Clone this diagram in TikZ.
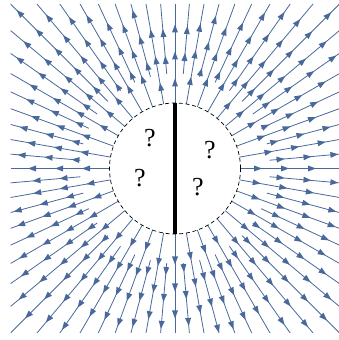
\documentclass[tikz,border=0pt]{standalone}
\usepackage{fontspec}
\setmainfont{Liberation Serif}
\definecolor{fld}{HTML}{4A699B}
\tikzset{
  fieldline/.style={draw=fld, line width=0.8pt},
  fieldhead/.style={fill=fld},
  boundary/.style={draw=black, line width=0.7pt, dash pattern=on 4pt off 2.8pt},
  wall/.style={draw=black, line width=3.3pt},
  qmark/.style={font=\fontsize{26}{30}\selectfont, inner sep=0pt}
}
\begin{document}
\begin{tikzpicture}[x=1pt,y=1pt]
\useasboundingbox (0,0) rectangle (339,340);
\coordinate (O) at (175,171.5);
\begin{scope}
\clip (10.5,7) rectangle (339.5,336);
\foreach \i in {0,...,71}{
  \pgfmathsetmacro\a{\i*5}
  \pgfmathsetmacro\rmax{164.5/max(abs(cos(\a)),abs(sin(\a)))}
  \pgfmathtruncatemacro\odd{mod(\i,2)}
  \pgfmathsetmacro\jit{3*mod(\i*7,5)-6}
  \ifnum\odd=0
    \def\rs{65.5}\pgfmathsetmacro\ph{89+\jit}
  \else
    \def\rs{95}\pgfmathsetmacro\ph{106+\jit}
  \fi
  \path[fieldline, shift={(O)}, rotate=\a] (\rs,0) -- (\rmax,0);
  \foreach \k in {0,...,7}{
    \pgfmathsetmacro\rr{\ph+\k*27}
    \pgfmathtruncatemacro\ok{(\rr+4<\rmax)?1:0}
    \ifnum\ok=1
      \path[fieldhead, shift={(O)}, rotate=\a] (\rr+4,0) -- (\rr-4,3) -- (\rr-4,-3) -- cycle;
    \fi
  }
}
\end{scope}
\path[boundary] (O) circle (65.5);
\coordinate (T) at (175,237);
\coordinate (B) at (175,106);
\path[wall] (T) -- (B);
\node[qmark] (q1) at (150,202) {?};
\node[qmark] (q2) at (140,162) {?};
\node[qmark] (q3) at (210,190) {?};
\node[qmark] (q4) at (198,153) {?};
\end{tikzpicture}
\end{document}
